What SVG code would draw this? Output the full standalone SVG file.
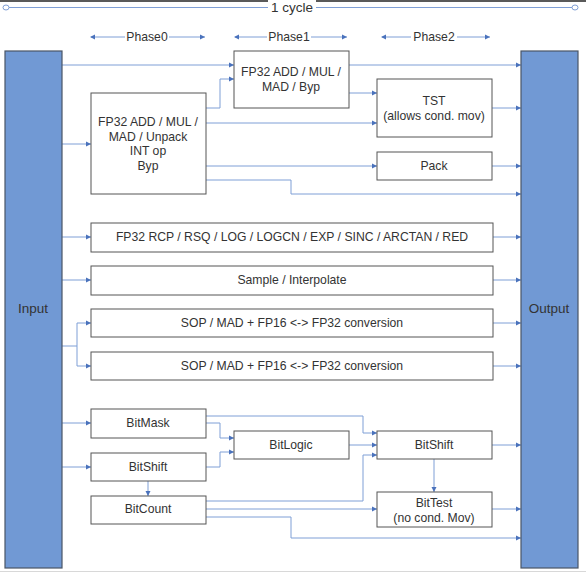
<svg xmlns="http://www.w3.org/2000/svg" width="586" height="573" viewBox="0 0 586 573">
<style>
.bg{fill:#ffffff}
.io{fill:#7199d4;stroke:#4a5566;stroke-width:1.2}
.box rect{fill:#ffffff;stroke:#555555;stroke-width:1}
text{font-family:"Liberation Sans",Arial,sans-serif;font-size:12.2px;fill:#333333;text-anchor:middle}
.big{font-size:13.5px}
.c{fill:none;stroke:#7f9fd6;stroke-width:1;marker-end:url(#ah)}
.n{fill:none;stroke:#7f9fd6;stroke-width:1}
</style>
<defs>
<marker id="ah" markerWidth="6" markerHeight="6" refX="5" refY="3" orient="auto" markerUnits="userSpaceOnUse">
<path d="M0,0.5 L5,3 L0,5.5 z" fill="#4a72bc"/>
</marker>
<marker id="as" markerWidth="6" markerHeight="6" refX="1" refY="3" orient="auto" markerUnits="userSpaceOnUse">
<path d="M5,0.5 L0,3 L5,5.5 z" fill="#4a72bc"/>
</marker>
<marker id="oe" markerWidth="8" markerHeight="8" refX="4" refY="4" orient="auto" markerUnits="userSpaceOnUse">
<ellipse cx="4" cy="4" rx="3" ry="2.5" fill="#ffffff" stroke="#7f9fd6" stroke-width="1"/>
</marker>
</defs>
<rect class="bg" x="0" y="0" width="586" height="573"/>
<rect x="0" y="0" width="586" height="2" fill="#5a5a5a"/>
<line x1="0" y1="571.5" x2="586" y2="571.5" stroke="#d8d8d8" stroke-width="1"/>

<g id="timeline">
<line x1="6" y1="7.5" x2="575" y2="7.5" stroke="#7f9fd6" stroke-width="1" marker-start="url(#oe)" marker-end="url(#oe)"/>
<rect x="268" y="0" width="48" height="14" fill="#ffffff"/>
<text class="big" x="292" y="12">1 cycle</text>
<line x1="91" y1="37" x2="205" y2="37" stroke="#7f9fd6" stroke-width="1" marker-start="url(#as)" marker-end="url(#ah)"/>
<rect x="125" y="30" width="44" height="14" fill="#ffffff"/>
<text x="147" y="41">Phase0</text>
<line x1="235" y1="37" x2="347" y2="37" stroke="#7f9fd6" stroke-width="1" marker-start="url(#as)" marker-end="url(#ah)"/>
<rect x="267" y="30" width="44" height="14" fill="#ffffff"/>
<text x="289" y="41">Phase1</text>
<line x1="382" y1="37" x2="490" y2="37" stroke="#7f9fd6" stroke-width="1" marker-start="url(#as)" marker-end="url(#ah)"/>
<rect x="411" y="30" width="46" height="14" fill="#ffffff"/>
<text x="434" y="41">Phase2</text>
</g>

<g id="connectors">
<path class="c" d="M62,65 H234"/>
<path class="c" d="M349,65 H521"/>
<path class="c" d="M62,144 H91"/>
<path class="c" d="M206,108 H220 V79 H234"/>
<path class="c" d="M206,123 H377"/>
<path class="c" d="M349,93 H377"/>
<path class="c" d="M492,108 H521"/>
<path class="c" d="M206,166 H377"/>
<path class="c" d="M492,166 H521"/>
<path class="c" d="M206,180 H291 V194 H521"/>
<path class="c" d="M62,237 H91"/>
<path class="c" d="M493,237 H521"/>
<path class="c" d="M62,280 H91"/>
<path class="c" d="M493,280 H521"/>
<path class="n" d="M62,346 H77"/>
<path class="c" d="M77,346 V323 H91"/>
<path class="c" d="M77,346 V366 H91"/>
<path class="c" d="M493,323 H521"/>
<path class="c" d="M493,366 H521"/>
<path class="c" d="M62,423 H91"/>
<path class="c" d="M62,467 H91"/>
<path class="c" d="M148,481 V496"/>
<path class="c" d="M206,416 H363 V433 H377"/>
<path class="c" d="M206,423 H220 V438 H234"/>
<path class="c" d="M206,467 H220 V452 H234"/>
<path class="c" d="M349,445 H377"/>
<path class="c" d="M206,501 H363 V455 H377"/>
<path class="c" d="M206,509 H377"/>
<path class="c" d="M206,517 H291 V538 H521"/>
<path class="c" d="M434,459 V492"/>
<path class="c" d="M492,445 H521"/>
<path class="c" d="M492,509 H521"/>
</g>

<g id="input">
<rect class="io" x="5" y="51" width="57" height="517"/>
<text class="big" x="33" y="313">Input</text>
</g>
<g id="output">
<rect class="io" x="521" y="51" width="57" height="517"/>
<text class="big" x="549" y="313">Output</text>
</g>

<g id="fp32-phase0" class="box">
<rect x="91" y="93" width="115" height="101"/>
<text x="148" y="126">FP32 ADD / MUL /</text>
<text x="148" y="141">MAD / Unpack</text>
<text x="148" y="155">INT op</text>
<text x="148" y="170">Byp</text>
</g>
<g id="fp32-phase1" class="box">
<rect x="234" y="51" width="115" height="57"/>
<text x="291" y="76">FP32 ADD / MUL /</text>
<text x="291" y="91">MAD / Byp</text>
</g>
<g id="tst" class="box">
<rect x="377" y="79" width="115" height="58"/>
<text x="434" y="105">TST</text>
<text x="434" y="120">(allows cond. mov)</text>
</g>
<g id="pack" class="box">
<rect x="377" y="152" width="115" height="28"/>
<text x="434" y="170">Pack</text>
</g>
<g id="rcp" class="box">
<rect x="91" y="223" width="402" height="29"/>
<text x="292" y="241">FP32 RCP / RSQ / LOG / LOGCN / EXP / SINC / ARCTAN / RED</text>
</g>
<g id="sample" class="box">
<rect x="91" y="266" width="402" height="29"/>
<text x="292" y="284">Sample / Interpolate</text>
</g>
<g id="sop1" class="box">
<rect x="91" y="309" width="402" height="28"/>
<text x="292" y="327">SOP / MAD + FP16 &lt;-&gt; FP32 conversion</text>
</g>
<g id="sop2" class="box">
<rect x="91" y="352" width="402" height="28"/>
<text x="292" y="370">SOP / MAD + FP16 &lt;-&gt; FP32 conversion</text>
</g>
<g id="bitmask" class="box">
<rect x="91" y="409" width="115" height="29"/>
<text x="148" y="427">BitMask</text>
</g>
<g id="bitshift-left" class="box">
<rect x="91" y="453" width="115" height="28"/>
<text x="148" y="471">BitShift</text>
</g>
<g id="bitcount" class="box">
<rect x="91" y="496" width="115" height="28"/>
<text x="148" y="513">BitCount</text>
</g>
<g id="bitlogic" class="box">
<rect x="234" y="431" width="115" height="28"/>
<text x="291" y="449">BitLogic</text>
</g>
<g id="bitshift-right" class="box">
<rect x="377" y="431" width="115" height="28"/>
<text x="434" y="449">BitShift</text>
</g>
<g id="bittest" class="box">
<rect x="377" y="492" width="115" height="35"/>
<text x="434" y="507">BitTest</text>
<text x="434" y="522">(no cond. Mov)</text>
</g>
</svg>
